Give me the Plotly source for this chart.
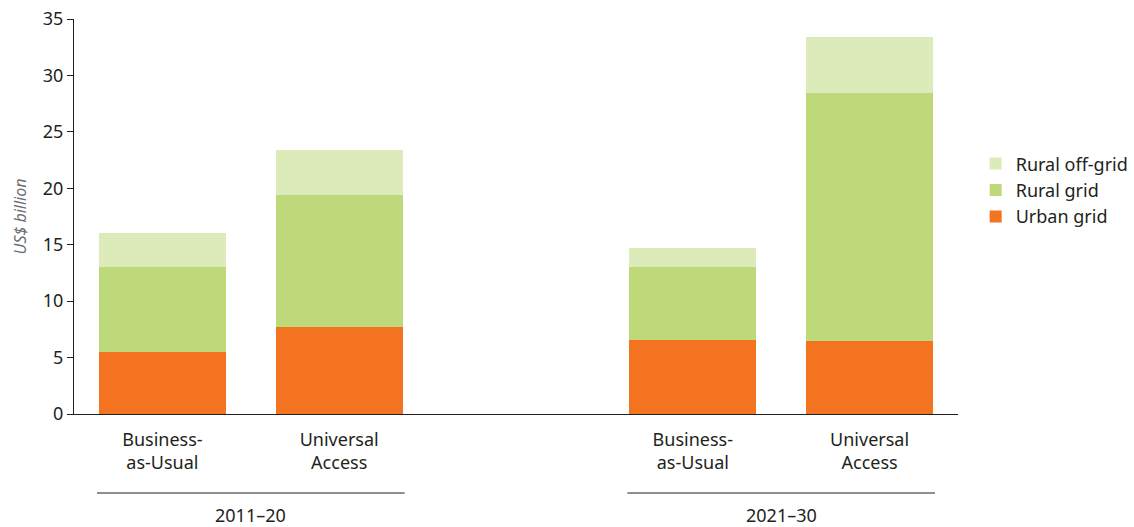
import plotly.graph_objects as go

# bar positions (slot 2 left empty as a gap between periods)
positions = [0, 1, 3, 4]
scenarios = ["Business-<br>as-Usual", "Universal<br>Access", "Business-<br>as-Usual", "Universal<br>Access"]
periods = ["2011–20", "2021–30"]

urban_grid = [5.5, 7.7, 6.6, 6.5]
rural_grid = [7.5, 11.7, 6.4, 21.9]
rural_offgrid = [3.0, 4.0, 1.7, 5.0]

font = "Noto Sans"
fig = go.Figure()
fig.add_trace(go.Bar(x=positions, y=urban_grid, name="Urban grid", marker_color="#F37321"))
fig.add_trace(go.Bar(x=positions, y=rural_grid, name="Rural grid", marker_color="#BDD97A"))
fig.add_trace(go.Bar(x=positions, y=rural_offgrid, name="Rural off-grid", marker_color="#DDEBBB"))
fig.update_traces(marker_line_width=0)

fig.update_layout(
    barmode="stack",
    bargap=0.28,
    width=1134, height=527,
    margin=dict(l=74, r=176, t=19, b=113, autoexpand=False),
    plot_bgcolor="white", paper_bgcolor="white",
    font=dict(family=font, size=18, color="#231F20"),
    legend=dict(traceorder="reversed", x=1.02, y=0.68, xanchor="left", yanchor="top",
                font=dict(size=18), itemwidth=30, tracegroupgap=0),
    xaxis=dict(range=[-0.5, 4.5], tickvals=positions, ticktext=scenarios, automargin=False,
               showline=True, linecolor="#231F20", linewidth=1, ticks="", showgrid=False,
               zeroline=False, ticklabelstandoff=9),
    yaxis=dict(range=[0, 35], dtick=5, showline=True, linecolor="#231F20", linewidth=1,
               automargin=False, ticks="outside", ticklen=6, tickcolor="#231F20",
               showgrid=False, zeroline=False,
               title=dict(text="<i>US$ billion</i>", font=dict(size=16, color="#6D6E71"), standoff=12)),
)

# period brackets below the axis
for i, label in enumerate(periods):
    x0 = positions[2 * i] - 0.37
    x1 = positions[2 * i + 1] + 0.37
    fig.add_shape(type="line", xref="x", yref="paper", x0=x0, x1=x1, y0=-0.2, y1=-0.2,
                  line=dict(color="#231F20", width=1))
    fig.add_annotation(xref="x", yref="paper", x=(x0 + x1) / 2, y=-0.22, yanchor="top",
                       text=label, showarrow=False, font=dict(size=18))

fig.write_html("out.html", config={"responsive": False, "displayModeBar": False},
               post_script="document.body.style.margin='0';document.body.style.overflow='hidden';")
